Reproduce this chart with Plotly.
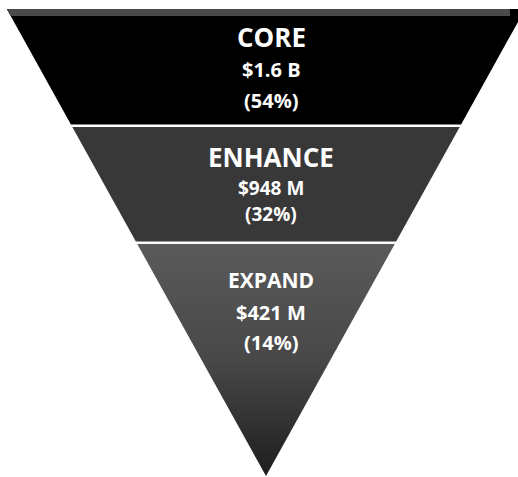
import plotly.graph_objects as go

# ---- data ----
categories = ["CORE", "ENHANCE", "EXPAND"]
value_labels = ["$1.6 B", "$948 M", "$421 M"]
shares = [54, 32, 14]

# ---- layout / style (pixel geometry of the inverted triangle) ----
W, H = 518, 477
apex_x, apex_y = 266, 476
top_y = 9
slope = 0.555  # half-width per pixel of height
band_tops = [9, 127, 244]
band_bottoms = [124.5, 241.5, 476]
band_colors = ["#000000", "#383838", "#505050"]
title_sizes = [26, 26, 21]
value_sizes = [20, 19, 20]
text_x = 271
title_y = [37, 157, 280]
value_y = [69, 188, 312]
pct_y = [100, 214, 342]


def half_width(y):
    return slope * (apex_y - y)


fig = go.Figure()
for i, cat in enumerate(categories):
    y0, y1 = band_tops[i], band_bottoms[i]
    xs = [apex_x - half_width(y0), apex_x + half_width(y0),
          apex_x + half_width(y1), apex_x - half_width(y1), apex_x - half_width(y0)]
    ys = [y0, y0, y1, y1, y0]
    kw = dict(fillcolor=band_colors[i])
    if i == 2:
        kw = dict(fillgradient=dict(type="vertical", start=y0, stop=y1,
                                    colorscale=[[0, "#5a5a5a"], [0.5, "#484848"], [1, "#1e1e1e"]]))
    fig.add_trace(go.Scatter(x=xs, y=ys, fill="toself", mode="lines",
                             line=dict(width=0), hoverinfo="skip", showlegend=False, **kw))

# thin grey fringe on top edge
y0, y1 = top_y, top_y + 7
fig.add_trace(go.Scatter(
    x=[apex_x - half_width(y0), 510, 510, apex_x - half_width(y1), apex_x - half_width(y0)],
    y=[y0, y0, y1, y1, y0], fill="toself", mode="lines", line=dict(width=0),
    fillcolor="#4a4a4a", hoverinfo="skip", showlegend=False))

for i, cat in enumerate(categories):
    fig.add_annotation(x=text_x, y=title_y[i], text=cat, showarrow=False,
                       font=dict(family="Open Sans", size=title_sizes[i], color="white", weight=700))
    fig.add_annotation(x=text_x, y=value_y[i], text=value_labels[i], showarrow=False,
                       font=dict(family="Open Sans", size=value_sizes[i], color="white", weight=700))
    fig.add_annotation(x=text_x, y=pct_y[i], text=f"({shares[i]}%)", showarrow=False,
                       font=dict(family="Open Sans", size=value_sizes[i], color="white", weight=700))

fig.update_layout(
    width=W, height=H, margin=dict(l=0, r=0, t=0, b=0),
    paper_bgcolor="white", plot_bgcolor="white",
    xaxis=dict(range=[0, W], visible=False, fixedrange=True),
    yaxis=dict(range=[H, 0], visible=False, fixedrange=True),
)
fig.write_html("out.html", config={"displayModeBar": False},
               post_script="document.body.style.margin='0';document.body.style.overflow='hidden';")
